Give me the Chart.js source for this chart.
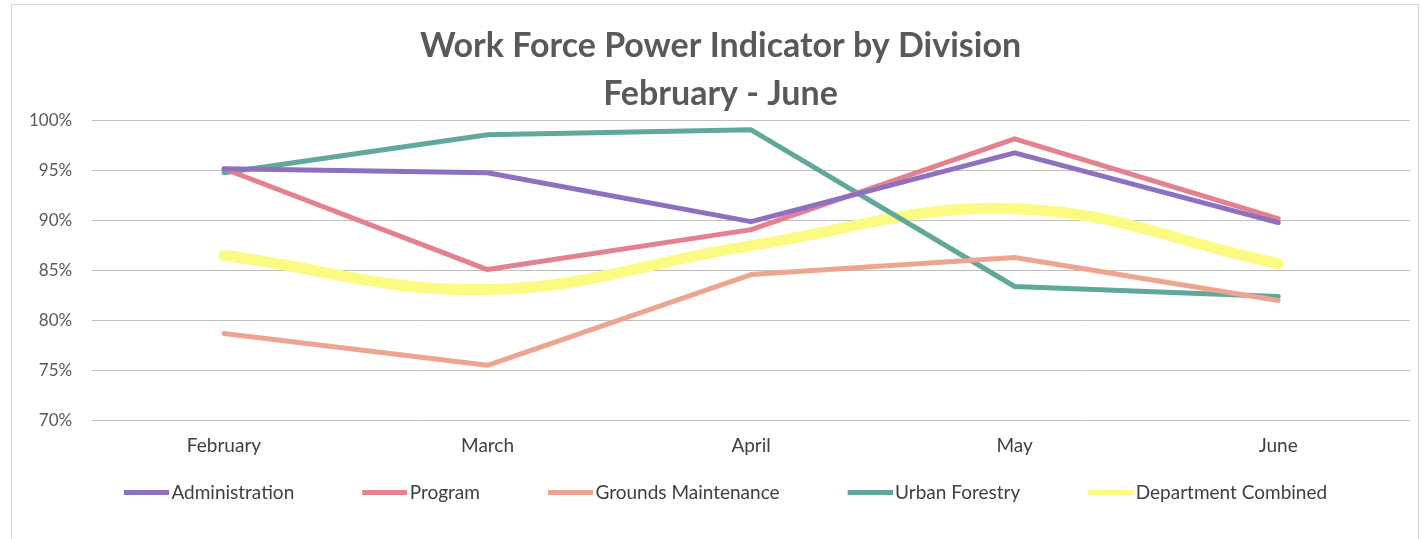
<!DOCTYPE html>
<html>
<head>
<meta charset="utf-8">
<script src="https://cdn.jsdelivr.net/npm/chart.js@4.4.1/dist/chart.umd.min.js"></script>
<style>
  html, body { margin: 0; padding: 0; background: #ffffff; }
  #wrap { position: relative; width: 1422px; height: 539px; }
  #frame { position: absolute; left: 11px; top: 4px; width: 1408px; height: 540px; border: 1px solid #d4d4d4; box-sizing: border-box; pointer-events: none; }
</style>
</head>
<body>
<div id="wrap">
  <canvas id="c" width="1422" height="539"></canvas>
  <div id="frame"></div>
</div>
<script>
const categories = ["February", "March", "April", "May", "June"];
const administration = [0.952, 0.948, 0.899, 0.968, 0.898];
const program = [0.952, 0.851, 0.891, 0.982, 0.902];
const groundsMaintenance = [0.787, 0.755, 0.846, 0.863, 0.820];
const urbanForestry = [0.948, 0.986, 0.991, 0.834, 0.824];
const departmentCombined = [0.865, 0.831, 0.875, 0.912, 0.857];
const yTicks = [0.70, 0.75, 0.80, 0.85, 0.90, 0.95, 1.00];

const seriesNames = ["Administration", "Program", "Grounds Maintenance", "Urban Forestry", "Department Combined"];
const seriesData = [administration, program, groundsMaintenance, urbanForestry, departmentCombined];
const seriesColors = ["#8d70c0", "#e5808f", "#eca58e", "#60a899", "#fbfb84"];
const seriesWidths = [5, 5, 5, 5, 11];
const seriesTension = [0, 0, 0, 0, 0.4];

const FONT = "Lato, 'Open Sans', 'DejaVu Sans', sans-serif";

// legend marker images: transparent lead-in then a short thick line
const BOX_W = 86, OVER = 7, MARK_LEN = 45, MARK_H = 5;
function makeMarker(color) {
  const cv = document.createElement('canvas');
  cv.width = BOX_W + 2 * OVER;
  cv.height = MARK_H;
  const cx = cv.getContext('2d');
  cx.fillStyle = color;
  cx.fillRect(cv.width - MARK_LEN, 0, MARK_LEN, MARK_H);
  return cv;
}
const markers = seriesColors.map(makeMarker);

const datasets = seriesNames.map((name, i) => ({
  label: name,
  data: seriesData[i],
  borderColor: seriesColors[i],
  backgroundColor: seriesColors[i],
  borderWidth: seriesWidths[i],
  tension: seriesTension[i],
  cubicInterpolationMode: 'default',
  pointRadius: 0,
  fill: false,
  borderCapStyle: 'round',
  borderJoinStyle: 'round',
  order: i === 4 ? 10 : i
}));

// nudge title and legend horizontally to match the original placement
const nudgePlugin = {
  id: 'nudge',
  afterLayout(chart) {
    if (chart.titleBlock) { chart.titleBlock.left += 11; chart.titleBlock.right += 11; }
    if (chart.legend) { chart.legend.left -= 8; chart.legend.right -= 8; }
  }
};

new Chart(document.getElementById('c'), {
  type: 'line',
  data: { labels: categories, datasets: datasets },
  plugins: [nudgePlugin],
  options: {
    responsive: false,
    animation: false,
    devicePixelRatio: 1,
    layout: { padding: { left: 9, right: 12, top: 0, bottom: 27 } },
    plugins: {
      title: {
        display: true,
        text: ["Work Force Power Indicator by Division", "February - June"],
        color: '#595959',
        font: { family: FONT, size: 34, weight: 'bold', lineHeight: 1.41 },
        padding: { top: 22, bottom: 3 }
      },
      legend: {
        display: true,
        position: 'bottom',
        labels: {
          color: '#404040',
          font: { family: FONT, size: 19 },
          usePointStyle: true,
          pointStyleWidth: BOX_W,
          boxHeight: MARK_H,
          padding: 20,
          generateLabels: (chart) => chart.data.datasets.map((ds, i) => ({
            text: ds.label,
            fillStyle: seriesColors[i],
            strokeStyle: seriesColors[i],
            lineWidth: 0,
            pointStyle: markers[i],
            hidden: false,
            datasetIndex: i,
            fontColor: '#404040'
          }))
        }
      },
      tooltip: { enabled: false }
    },
    scales: {
      x: {
        offset: true,
        grid: { display: false },
        border: { display: false },
        ticks: { color: '#404040', font: { family: FONT, size: 19 }, padding: 6 }
      },
      y: {
        min: 0.70,
        max: 1.00,
        afterBuildTicks: (scale) => { scale.ticks = yTicks.map(v => ({ value: v })); },
        grid: { color: '#bfbfbf', lineWidth: 1, drawTicks: false },
        border: { display: false },
        ticks: {
          color: '#595959',
          font: { family: FONT, size: 17 },
          padding: 20,
          callback: (v) => Math.round(v * 100) + '%'
        }
      }
    }
  }
});
</script>
</body>
</html>
